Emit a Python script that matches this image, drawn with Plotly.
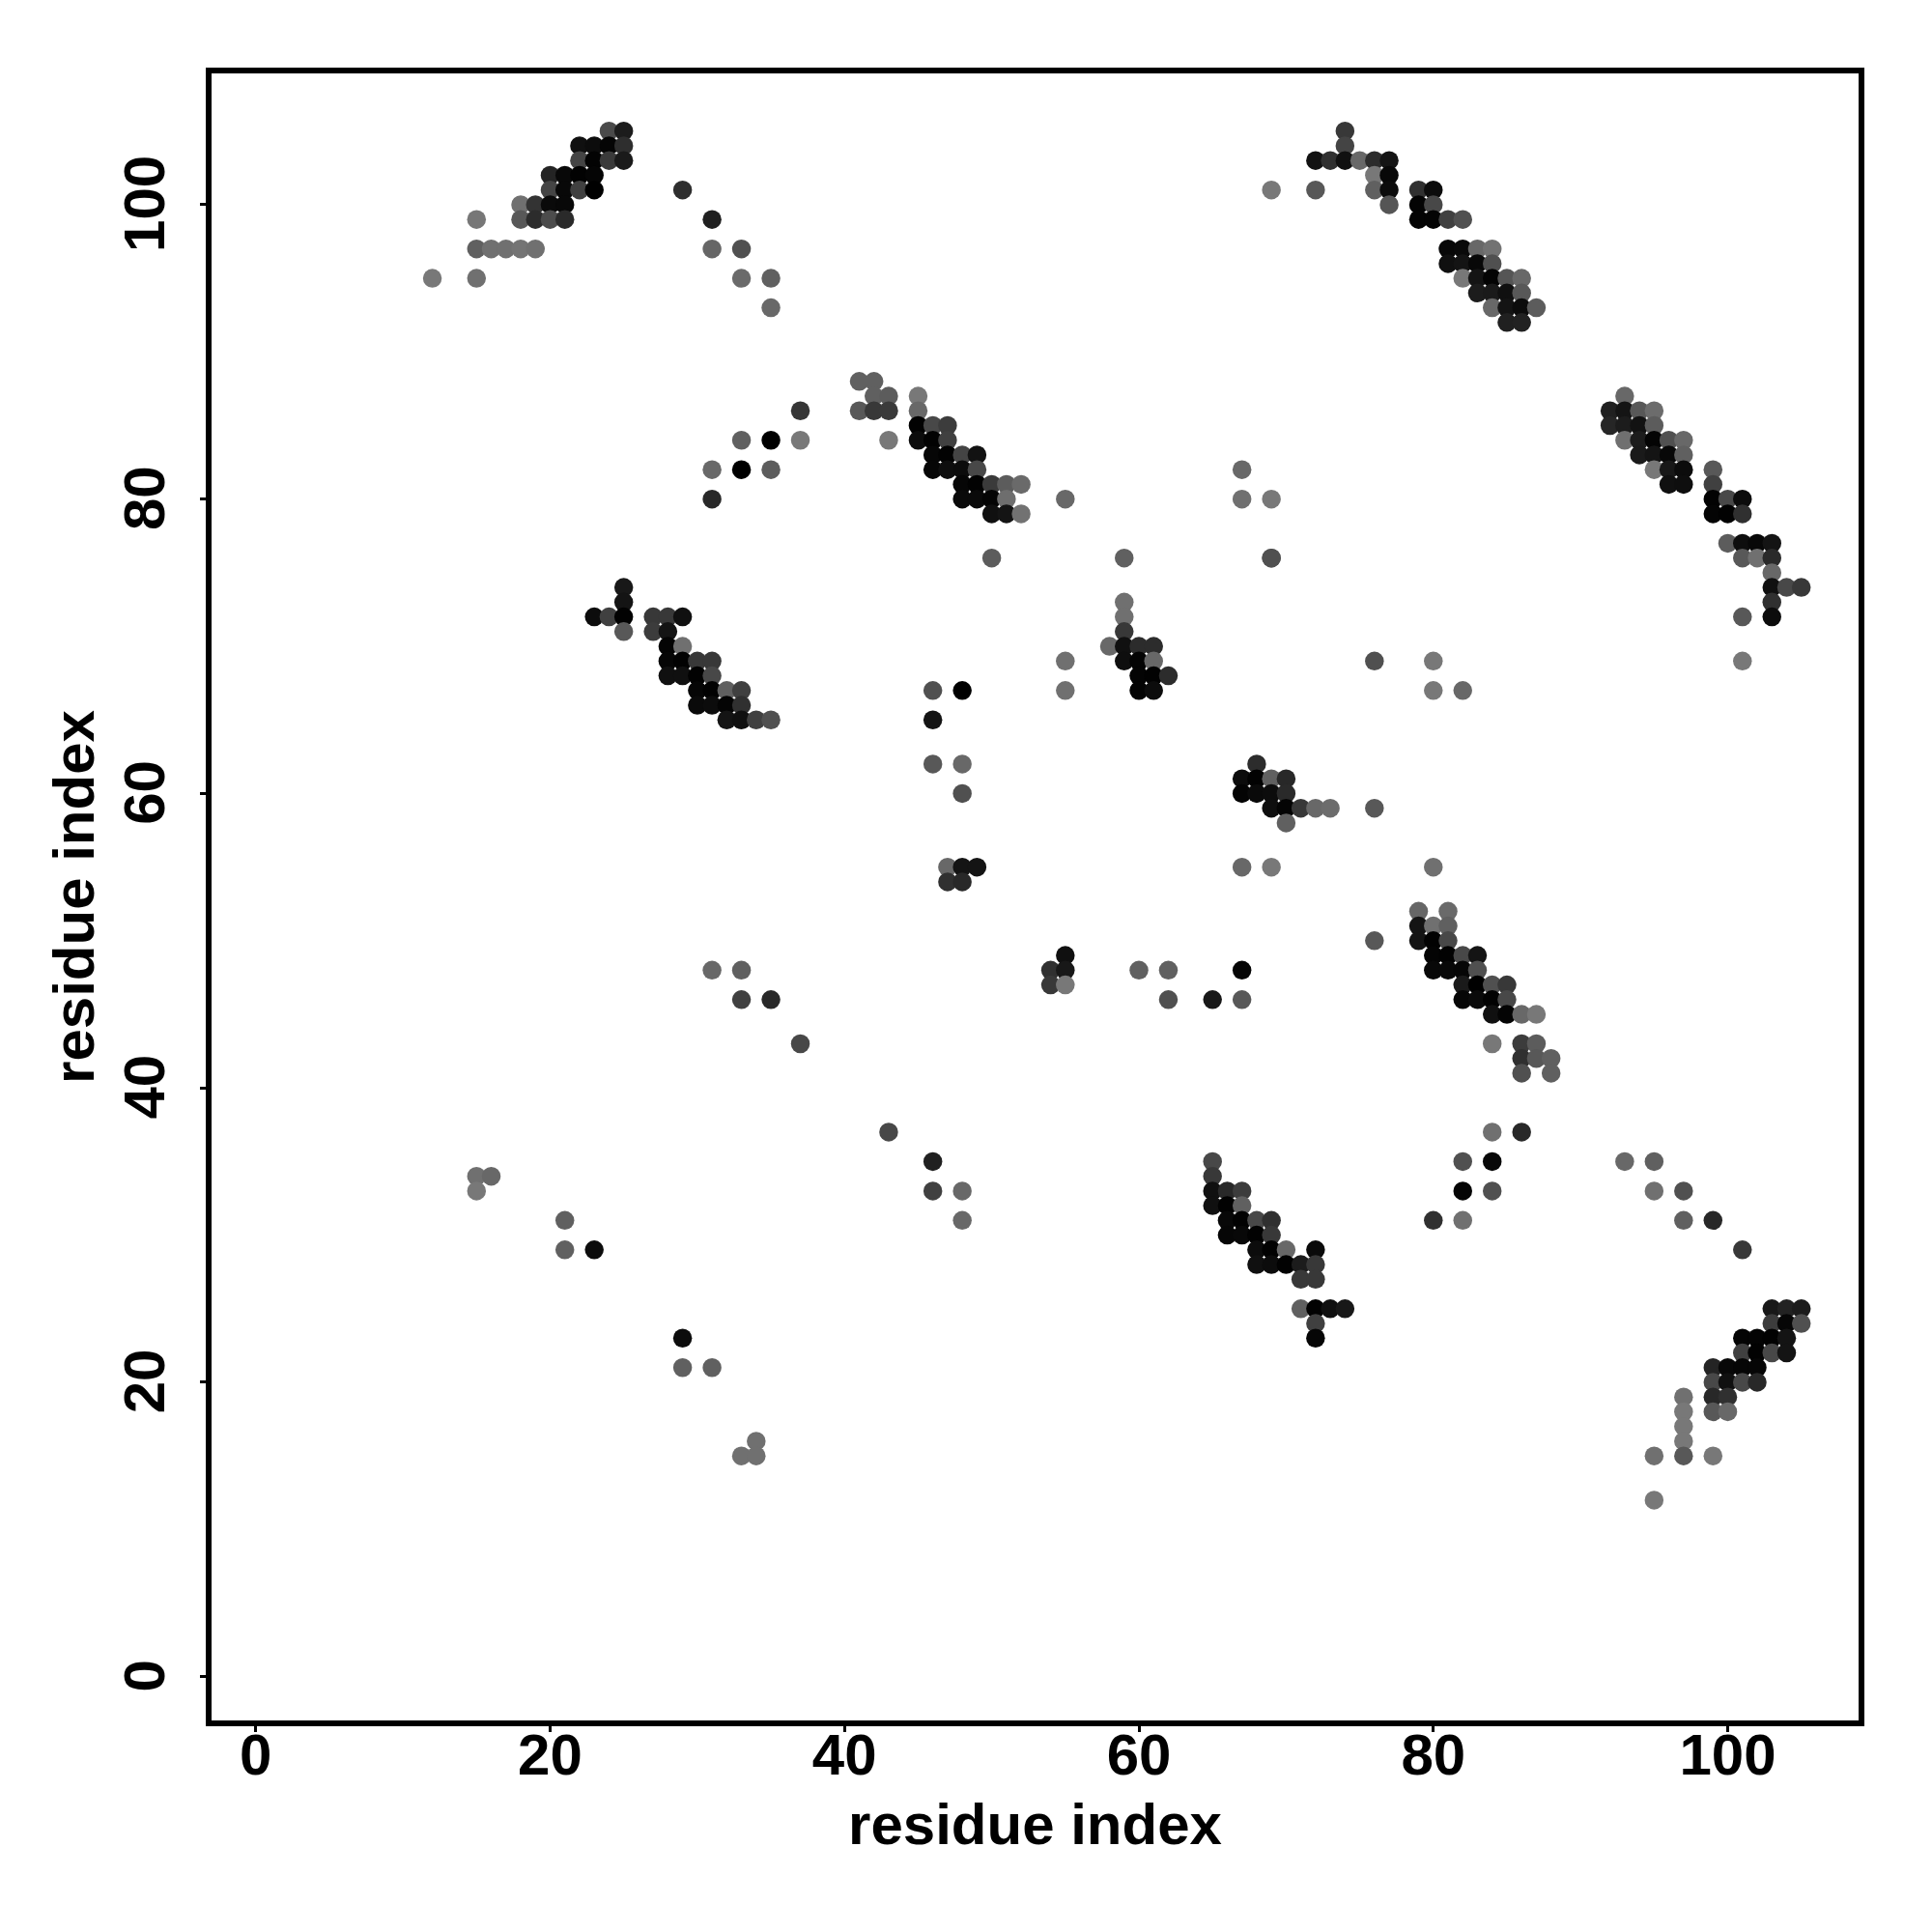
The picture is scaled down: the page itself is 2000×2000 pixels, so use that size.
import plotly.graph_objects as go

contact_x = [
 24,25, 22,23,24,25, 22,23,24,25, 20,21,22,23, 20,21,22,23,29,
 18,19,20,21, 15,18,19,20,21,31, 15,16,17,18,19,31,33, 12,15,33,35, 35,
 74, 74, 72,73,74,75,76,77, 76,77, 69,72,76,77,79,80, 77,79,80, 79,80,81,82,
 81,82,83,84, 81,82,83,84, 82,83,84,85,86, 83,84,85,86, 84,85,86,87, 85,86,
 41,42, 42,43,45, 37,41,42,43,45, 45,46,47, 33,35,37,43,45,46,47, 46,47,48,49,
 31,33,35,46,47,48,49, 48,49,50,51,52, 31,48,49,50,51,55, 50,51,52, 50,
 93, 92,93,94,95, 92,93,94,95, 93,94,95,96,97, 94,95,96,97, 95,96,97,99, 96,97,99,
 99,100,101, 99,100,101, 100,101,102,103, 101,102,103, 103, 103,104,105, 103, 101,103, 101,
 25, 25, 23,24,25,27,28,29, 25,27,28, 28,29, 28,29,30,31, 28,29,30,31,
 30,31,32,33, 30,31,32,33, 32,33,34,35,
 59,69, 59, 59, 59, 58,59,60,61, 59,60,61, 60,61,62, 60,61,
 68, 67,68,69,70, 67,68,69,70, 69,70,71,72,73,76, 70,
 79,81, 79,80,81, 79,80,81, 80,81,82,83, 80,81,82,83, 82,83,84,85, 82,83,84,85,
 84,85,86,87, 84,86,87, 86,87,88, 86,88,
 65, 65, 65,66,67, 65,66,67, 66,67,68,69, 66,67,68,69, 68,69,70,72, 68,69,70,71,72,
 71,72, 71,72,73,74, 72, 72,
 103,104,105, 103,104,105, 101,102,103,104, 101,102,103,104, 99,100,101,102, 99,100,101,102,
 97,99,100, 97,99,100, 97, 97, 95,97,99, 95,
 67,67,69,69, 76,80,80,82, 46,48,46,46,48,48, 47,48,49,47,48, 55,55, 67,69,80, 76,
 31,33,33,35,37, 54,55,55,54,55, 60,62,62,65,67,67,
 43,46,46,48,48, 15,15,16,21,21,23, 29,29,31,34,33,34,
 84,86,82,84,82,84,80,82, 93,95,95,97,97,99,101,
]
contact_y = [
 105,105, 104,104,104,104, 103,103,103,103, 102,102,102,102, 101,101,101,101,101,
 100,100,100,100, 99,99,99,99,99,99, 97,97,97,97,97,97,97, 95,95,95,95, 93,
 105, 104, 103,103,103,103,103,103, 102,102, 101,101,101,101,101,101, 100,100,100, 99,99,99,99,
 97,97,97,97, 96,96,96,96, 95,95,95,95,95, 94,94,94,94, 93,93,93,93, 92,92,
 88,88, 87,87,87, 86,86,86,86,86, 85,85,85, 84,84,84,84,84,84,84, 83,83,83,83,
 82,82,82,82,82,82,82, 81,81,81,81,81, 80,80,80,80,80,80, 79,79,79, 76,
 87, 86,86,86,86, 85,85,85,85, 84,84,84,84,84, 83,83,83,83, 82,82,82,82, 81,81,81,
 80,80,80, 79,79,79, 77,77,77,77, 76,76,76, 75, 74,74,74, 73, 72,72, 69,
 74, 73, 72,72,72,72,72,72, 71,71,71, 70,70, 69,69,69,69, 68,68,68,68,
 67,67,67,67, 66,66,66,66, 65,65,65,65,
 76,76, 73, 72, 71, 70,70,70,70, 69,69,69, 68,68,68, 67,67,
 62, 61,61,61,61, 60,60,60,60, 59,59,59,59,59,59, 58,
 52,52, 51,51,51, 50,50,50, 49,49,49,49, 48,48,48,48, 47,47,47,47, 46,46,46,46,
 45,45,45,45, 43,43,43, 42,42,42, 41,41,
 35, 34, 33,33,33, 32,32,32, 31,31,31,31, 30,30,30,30, 29,29,29,29, 28,28,28,28,28,
 27,27, 25,25,25,25, 24, 23,
 25,25,25, 24,24,24, 23,23,23,23, 22,22,22,22, 21,21,21,21, 20,20,20,20,
 19,19,19, 18,18,18, 17, 16, 15,15,15, 12,
 82,80,80,76, 69,69,67,67, 67,67,65,62,62,60, 55,55,55,54,54, 69,67, 55,55,55, 50,
 48,48,46,46,43, 48,49,48,47,47, 48,48,46,46,48,46,
 37,35,33,33,31, 34,33,34,31,29,29, 23,21,21,16,15,15,
 37,37,35,35,33,33,31,31, 35,35,33,33,31,31,29,
]
contact_gray = [
 0x4a,0x1c, 0x10,0x0c,0x05,0x2e, 0x44,0x03,0x3a,0x1a, 0x24,0x08,0x02,0x05, 0x44,0x08,0x40,0x00,0x2e,
 0x70,0x33,0x0a,0x08, 0x77,0x58,0x2c,0x4c,0x2a,0x20, 0x60,0x70,0x70,0x74,0x70,0x66,0x50, 0x78,0x70,0x6a,0x60, 0x68,
 0x38, 0x44, 0x12,0x30,0x10,0x68,0x2c,0x14, 0x78,0x08, 0x78,0x58,0x60,0x0c,0x30,0x0c, 0x55,0x04,0x48, 0x04,0x04,0x40,0x50,
 0x08,0x0a,0x68,0x72, 0x10,0x14,0x08,0x50, 0x78,0x14,0x04,0x55,0x68, 0x1c,0x1a,0x10,0x58, 0x68,0x14,0x0c,0x5c, 0x20,0x22,
 0x60,0x60, 0x60,0x5c,0x78, 0x36,0x58,0x38,0x3a,0x68, 0x02,0x48,0x3c, 0x60,0x00,0x78,0x78,0x0c,0x02,0x40, 0x06,0x02,0x44,0x12,
 0x68,0x00,0x5c,0x06,0x0e,0x0c,0x48, 0x06,0x02,0x3a,0x5c,0x6a, 0x28,0x0a,0x0a,0x05,0x6e,0x68, 0x10,0x14,0x72, 0x5c,
 0x68, 0x20,0x14,0x58,0x6c, 0x26,0x1c,0x12,0x5c, 0x70,0x1c,0x04,0x50,0x68, 0x1a,0x14,0x08,0x60, 0x78,0x18,0x0c,0x58, 0x10,0x0e,0x40,
 0x02,0x48,0x0c, 0x04,0x02,0x30, 0x5c,0x0e,0x08,0x14, 0x58,0x70,0x2a, 0x68, 0x10,0x48,0x38, 0x30, 0x58,0x0c, 0x78,
 0x18, 0x14, 0x0c,0x40,0x02,0x38,0x38,0x10, 0x58,0x3c,0x14, 0x04,0x70, 0x06,0x02,0x38,0x38, 0x10,0x10,0x02,0x48,
 0x06,0x02,0x60,0x40, 0x0a,0x0c,0x04,0x30, 0x14,0x10,0x40,0x50,
 0x60,0x50, 0x70, 0x70, 0x38, 0x68,0x10,0x2c,0x2c, 0x0e,0x04,0x68, 0x04,0x02,0x2c, 0x04,0x0c,
 0x2c, 0x0c,0x02,0x60,0x28, 0x04,0x0a,0x0c,0x2a, 0x0e,0x04,0x38,0x68,0x6c,0x58, 0x60,
 0x66,0x6a, 0x14,0x70,0x60, 0x14,0x02,0x48, 0x04,0x02,0x48,0x14, 0x08,0x08,0x06,0x50, 0x1a,0x00,0x50,0x38, 0x06,0x0a,0x02,0x48,
 0x10,0x04,0x68,0x78, 0x78,0x3c,0x5c, 0x30,0x58,0x60, 0x50,0x60,
 0x48, 0x38, 0x10,0x28,0x3c, 0x10,0x02,0x60, 0x08,0x02,0x48,0x30, 0x06,0x08,0x02,0x38, 0x0c,0x02,0x68,0x0a, 0x10,0x0c,0x02,0x1c,0x38,
 0x38,0x38, 0x60,0x02,0x10,0x18, 0x40, 0x06,
 0x18,0x22,0x1c, 0x3c,0x06,0x50, 0x04,0x04,0x02,0x14, 0x40,0x02,0x48,0x14, 0x24,0x08,0x06,0x06, 0x48,0x10,0x48,0x28,
 0x70,0x28,0x30, 0x78,0x58,0x68, 0x78, 0x78, 0x70,0x58,0x78, 0x78,
 0x68,0x70,0x78,0x50, 0x50,0x78,0x78,0x68, 0x50,0x00,0x14,0x58,0x68,0x50, 0x68,0x14,0x14,0x30,0x28, 0x70,0x70, 0x68,0x78,0x70, 0x58,
 0x68,0x60,0x40,0x28,0x48, 0x30,0x10,0x18,0x38,0x78, 0x60,0x60,0x50,0x18,0x05,0x58,
 0x48,0x20,0x40,0x68,0x68, 0x70,0x78,0x68,0x60,0x60,0x0c, 0x0c,0x60,0x60,0x70,0x70,0x70,
 0x70,0x28,0x50,0x08,0x05,0x50,0x30,0x70, 0x68,0x60,0x70,0x50,0x60,0x28,0x38,
]
x_ticks = [0, 20, 40, 60, 80, 100]
y_ticks = [0, 20, 40, 60, 80, 100]
x_label = "residue index"
y_label = "residue index"

assert len(contact_x) == len(contact_y) == len(contact_gray), (len(contact_x), len(contact_y), len(contact_gray))

order = sorted(range(len(contact_x)), key=lambda i: (-contact_y[i], contact_x[i]))
fig = go.Figure(go.Scatter(
    x=[contact_x[i] for i in order],
    y=[contact_y[i] for i in order],
    mode="markers",
    marker=dict(
        size=19.5,
        color=[f"rgb({contact_gray[i]},{contact_gray[i]},{contact_gray[i]})" for i in order],
        line=dict(width=0),
    ),
    showlegend=False,
))

axis_style = dict(
    showgrid=False, zeroline=False, showline=True, mirror=True,
    linecolor="black", linewidth=6,
    ticks="outside", ticklen=6, tickwidth=3, tickcolor="black",
    tickfont=dict(family="Liberation Sans", size=60, color="black", weight="bold"),
    tickvals=x_ticks,
)
title_font = dict(family="Liberation Sans", size=60, color="black", weight="bold")
fig.update_xaxes(range=[-3.0, 108.89], ticklabelstandoff=-28,
                 title=dict(text=x_label, font=title_font, standoff=20), **axis_style)
fig.update_yaxes(range=[-2.97, 108.92], tickangle=-90, ticklabelstandoff=13, ticklabelshift=8,
                 title=dict(text=y_label, font=title_font, standoff=1), **axis_style)
fig.update_layout(
    width=1992, height=1992, autosize=False,
    margin=dict(l=211.3, r=75.5, t=67.7, b=219, autoexpand=False),
    paper_bgcolor="white", plot_bgcolor="white",
)
fig.write_html("out.html")
